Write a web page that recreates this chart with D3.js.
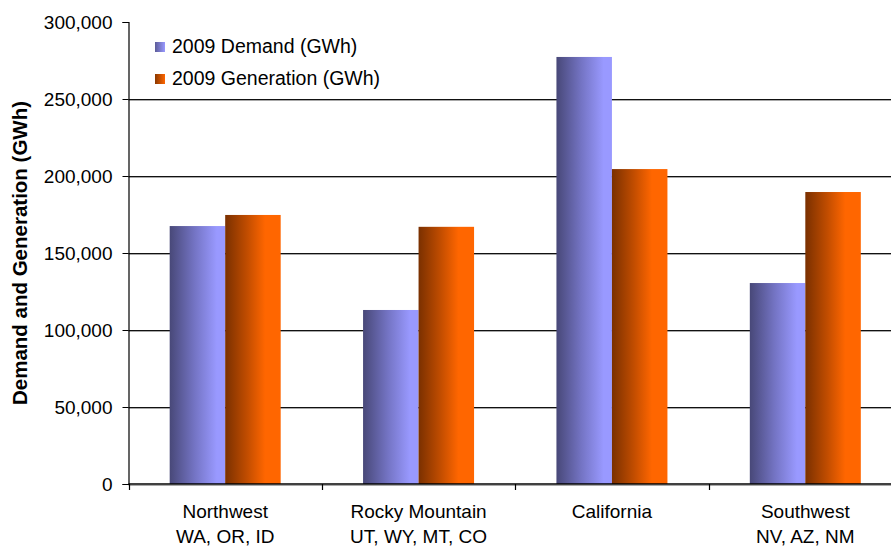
<!DOCTYPE html>
<html>
<head>
<meta charset="utf-8">
<script src="https://cdn.jsdelivr.net/npm/d3@7/dist/d3.min.js"></script>
<style>
  html, body { margin: 0; padding: 0; background: #fff; }
  svg { display: block; font-family: "Liberation Sans", Arial, sans-serif; }
</style>
</head>
<body>
<svg id="chart" width="891" height="548"></svg>
<script>
// Regions and their 2009 figures (GWh)
const regions = ["Northwest", "Rocky Mountain", "California", "Southwest"];
const regionStates = ["WA, OR, ID", "UT, WY, MT, CO", "", "NV, AZ, NM"];
const seriesNames = ["2009 Demand (GWh)", "2009 Generation (GWh)"];
const demand = [167500, 113000, 277300, 130500];
const generation = [174700, 167000, 204500, 189600];
const yTicks = [0, 50000, 100000, 150000, 200000, 250000, 300000];

const svg = d3.select("#chart");
const margin = { left: 128.5, top: 22, bottom: 484 };
const plotRight = 902;

const y = d3.scaleLinear().domain([0, 300000]).range([margin.bottom, margin.top]);
const x0 = d3.scaleBand().domain(regions).range([margin.left, plotRight]).padding(0);
const bw = x0.bandwidth();
const x1 = d3.scaleBand().domain(seriesNames).range([bw * 0.213, bw * 0.787]).padding(0);

// Gradients for the cylinder-like shading of the bars
const defs = svg.append("defs");
const grads = [
  { id: "gDemand", stops: [[0, "#484878"], [0.45, "#7474c4"], [0.85, "#9999ff"], [1, "#9999ff"]] },
  { id: "gGen", stops: [[0, "#7a3000"], [0.4, "#c24d00"], [0.72, "#ff6600"], [1, "#ff6600"]] }
];
grads.forEach(g => {
  const lg = defs.append("linearGradient").attr("id", g.id)
    .attr("x1", "0%").attr("x2", "100%").attr("y1", "0%").attr("y2", "0%");
  g.stops.forEach(s => lg.append("stop").attr("offset", s[0]).attr("stop-color", s[1]));
});
const fills = ["url(#gDemand)", "url(#gGen)"];

// Horizontal gridlines with a soft grey shadow beneath
const gridVals = yTicks.filter(v => v > 0 && v < 300000);
const grid = svg.append("g");
grid.selectAll("line.shadow").data(gridVals).join("line")
  .attr("class", "shadow")
  .attr("x1", margin.left).attr("x2", 891)
  .attr("y1", d => Math.round(y(d)) + 1.5).attr("y2", d => Math.round(y(d)) + 1.5)
  .attr("stroke", "#a8a8a8").attr("stroke-width", 1);
grid.selectAll("line.main").data(gridVals).join("line")
  .attr("class", "main")
  .attr("x1", margin.left).attr("x2", 891)
  .attr("y1", d => Math.round(y(d)) + 0.5).attr("y2", d => Math.round(y(d)) + 0.5)
  .attr("stroke", "#111").attr("stroke-width", 1);

// Bars
const rows = regions.map((r, i) => ({ region: r, values: [demand[i], generation[i]] }));
const groups = svg.append("g").selectAll("g").data(rows).join("g")
  .attr("transform", d => `translate(${x0(d.region)},0)`);
groups.selectAll("rect").data(d => d.values.map((v, k) => ({ k, v }))).join("rect")
  .attr("x", d => x1(seriesNames[d.k]))
  .attr("width", x1.bandwidth())
  .attr("y", d => y(d.v))
  .attr("height", d => y(0) - y(d.v))
  .attr("fill", d => fills[d.k]);

// Y axis
const yAxis = svg.append("g")
  .attr("transform", `translate(${margin.left},0)`)
  .call(d3.axisLeft(y).tickValues(yTicks).tickSize(6).tickPadding(10)
    .tickFormat(d3.format(",")));
yAxis.select(".domain").attr("stroke", "#000").attr("stroke-width", 1.2);
yAxis.selectAll(".tick line").attr("stroke", "#000");
yAxis.selectAll(".tick text").attr("font-size", 19).attr("fill", "#000")
  .attr("font-family", "'Liberation Sans', Arial, sans-serif");

// X axis: baseline with a shadow and boundary ticks between regions
svg.append("line").attr("x1", margin.left).attr("x2", 891)
  .attr("y1", y(0) + 1.5).attr("y2", y(0) + 1.5)
  .attr("stroke", "#a8a8a8").attr("stroke-width", 1);
svg.append("line").attr("x1", margin.left).attr("x2", 891)
  .attr("y1", y(0)).attr("y2", y(0))
  .attr("stroke", "#000").attr("stroke-width", 1.4);
const boundaries = regions.map(r => x0(r));
svg.append("g").selectAll("line").data(boundaries).join("line")
  .attr("x1", d => Math.round(d) + 0.5).attr("x2", d => Math.round(d) + 0.5)
  .attr("y1", y(0)).attr("y2", y(0) + 6)
  .attr("stroke", "#000").attr("stroke-width", 1.2);

// Region labels
const labels = svg.append("g").selectAll("text").data(regions).join("text")
  .attr("x", d => x0(d) + bw / 2)
  .attr("y", 518)
  .attr("text-anchor", "middle")
  .attr("font-size", 19).attr("fill", "#000");
labels.append("tspan").text(d => d);
labels.append("tspan")
  .attr("x", d => x0(d) + bw / 2).attr("dy", 25)
  .text((d, i) => regionStates[i]);

// Y axis title
svg.append("text")
  .attr("transform", `translate(27,${(margin.top + margin.bottom) / 2}) rotate(-90)`)
  .attr("text-anchor", "middle")
  .attr("font-size", 20.5).attr("font-weight", "bold").attr("fill", "#000")
  .text("Demand and Generation (GWh)");

// Legend
const legendColors = [["#5c5c98", "#9999ff"], ["#8a3800", "#ff6600"]];
legendColors.forEach((c, i) => {
  const lg = defs.append("linearGradient").attr("id", "lg" + i)
    .attr("x1", "0%").attr("x2", "100%");
  lg.append("stop").attr("offset", 0).attr("stop-color", c[0]);
  lg.append("stop").attr("offset", 1).attr("stop-color", c[1]);
});
const legend = svg.append("g").selectAll("g").data(seriesNames).join("g")
  .attr("transform", (d, i) => `translate(155,${42 + i * 32})`);
legend.append("rect").attr("width", 10).attr("height", 10)
  .attr("fill", (d, i) => `url(#lg${i})`);
legend.append("text").attr("x", 17).attr("y", 11)
  .attr("font-size", 19.5).attr("fill", "#000")
  .text(d => d);
</script>
</body>
</html>
